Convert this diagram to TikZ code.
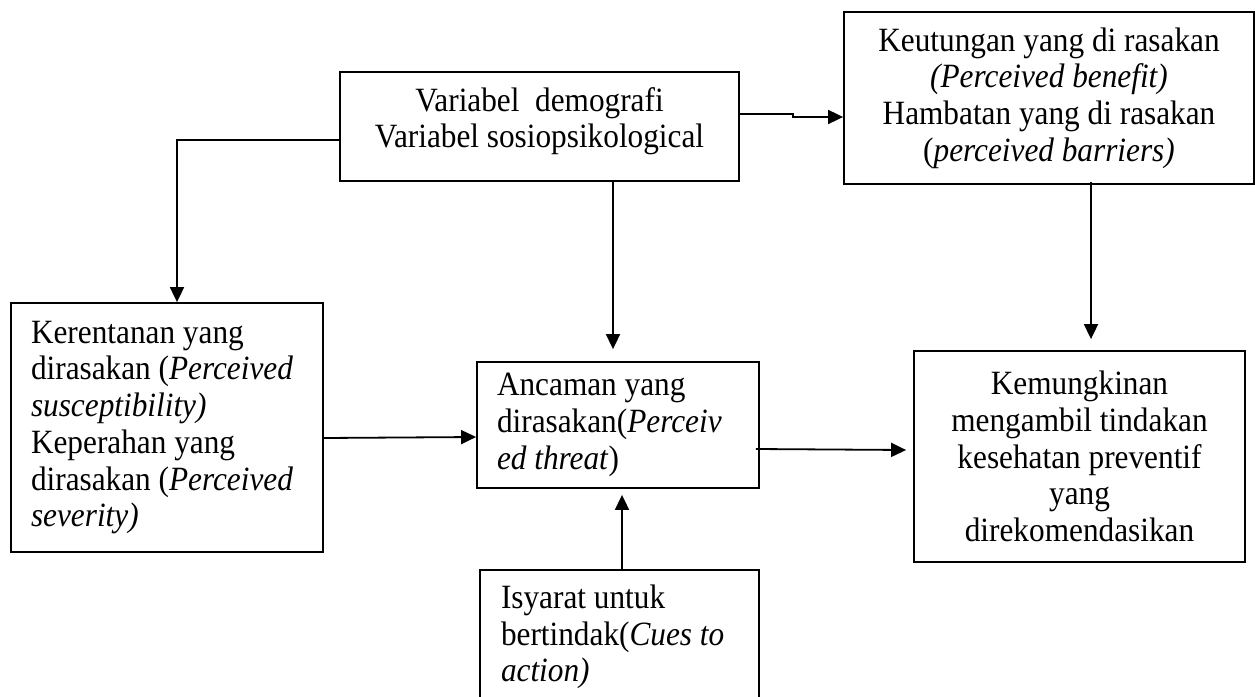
\documentclass[tikz,border=0pt]{standalone}
\usepackage{fontspec}
\setmainfont{Liberation Serif}[FakeStretch=0.92]
\usetikzlibrary{arrows.meta}
\begin{document}
\begin{tikzpicture}[x=1pt,y=-1pt,
  every node/.style={font=\fontsize{34pt}{36.7pt}\selectfont},
  box/.style={draw, line width=1.8pt, inner sep=0pt},
  arr/.style={line width=1.8pt, -{Triangle[length=15pt,width=14pt]}}]
\useasboundingbox (0,0) rectangle (1255,696);
\clip (0,0) rectangle (1255,696);
% boxes
\node[box, minimum width=399pt, minimum height=109pt, align=center, text depth=18pt] (A) at (539.5,126.5)
  {Variabel\ \ demografi\\Variabel sosiopsikological};
\node[box, minimum width=410pt, minimum height=172pt, align=center] (B) at (1049,98)
  {Keutungan yang di rasakan\\\textit{(Perceived benefit)}\\Hambatan yang di rasakan\\(\textit{perceived barriers)}};
\node[box, minimum width=312pt, minimum height=249pt, text width=272pt, align=flush left] (K) at (167,427.5)
  {Kerentanan yang\\dirasakan (\textit{Perceived}\\\textit{susceptibility)}\\Keperahan yang\\dirasakan (\textit{Perceived}\\\textit{severity)}};
\node[box, minimum width=282pt, minimum height=126pt, text width=242pt, align=flush left] (T) at (618,425)
  {Ancaman yang\\dirasakan(\textit{Perceiv}\\\textit{ed threat})};
\node[box, minimum width=279pt, minimum height=134pt, text width=237pt, align=flush left] (I) at (619.5,637)
  {Isyarat untuk\\bertindak(\textit{Cues to}\\\textit{action)}};
\node[box, minimum width=331pt, minimum height=211pt, align=center] (M) at (1079.5,456.5)
  {Kemungkinan\\mengambil tindakan\\kesehatan preventif\\yang\\direkomendasikan};
% connectors
\draw[arr] ([yshift=-13.5pt]A.west) -| ([xshift=10pt]K.north);
\draw[arr] ([xshift=73.5pt]A.south) -- ([xshift=-5pt,yshift=12pt]T.north);
\draw[arr] ([yshift=12.5pt]A.east) -- ++(53pt,0) |- ([yshift=-19pt]B.west);
\draw[arr] ([xshift=42pt,yshift=3pt]B.south) -- ([xshift=11.5pt,yshift=11pt]M.north);
\draw[arr] ([yshift=-10.5pt]K.east) -- ([yshift=-12pt]T.west);
\draw[arr] ([xshift=-4pt,yshift=-24pt]T.east) -- ([xshift=-7pt,yshift=6.5pt]M.west);
\draw[arr] ([xshift=2.5pt]I.north) -- ([xshift=4pt,yshift=-6pt]T.south);
\end{tikzpicture}
\end{document}
